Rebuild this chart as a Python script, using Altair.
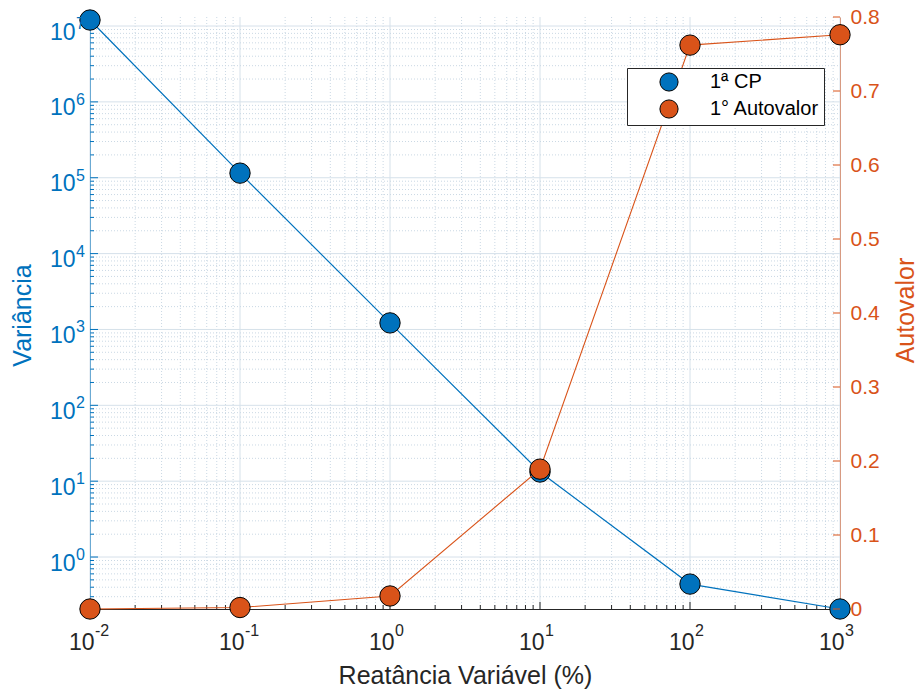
import altair as alt
import pandas as pd

# ---- data ----
reatancia = [0.01, 0.1, 1, 10, 100, 1000]
variancia = [1.2e7, 1.15e5, 1.22e3, 13.2, 0.44, 0.2065]
autovalor = [0.0, 0.002, 0.0176, 0.189, 0.762, 0.776]
series = ["1ª CP", "1° Autovalor"]

x_major = [0.01, 0.1, 1, 10, 100, 1000]
x_exp = ["-2", "-1", "0", "1", "2", "3"]
x_minor = [m * 10.0 ** k for k in range(-2, 3) for m in range(2, 10)]
yl_dom = [0.2065, 1.315e7]
y_major = [10.0 ** k for k in range(0, 8)]
y_exp = ["0", "1", "2", "3", "4", "5", "6", "7"]
y_minor = [m * 10.0 ** k for k in range(-1, 7) for m in range(2, 10)
           if yl_dom[0] <= m * 10.0 ** k <= yl_dom[1]]
r_ticks = [0, 0.1, 0.2, 0.3, 0.4, 0.5, 0.6, 0.7, 0.8]

BLUE = "#0072BD"
ORANGE = "#D95319"
DARK = "#262626"
GRID_MAJ = "#d6e1ea"
GRID_MIN = "#cad8e4"
FONT = "Liberation Sans"
W, H = 750, 592
BASE_FS = 23
EXP_FS = 16
TITLE_FS = 25

left_df = pd.DataFrame({"x": reatancia, "v": variancia, "s": series[0]})
right_df = pd.DataFrame({"x": reatancia, "v": autovalor, "s": series[1]})

xs = alt.Scale(type="log", domain=[0.01, 1000], nice=False)
yl = alt.Scale(type="log", domain=yl_dom, nice=False)
yr = alt.Scale(type="linear", domain=[0, 0.8], nice=False, zero=False)

color = alt.Color(
    "s:N",
    scale=alt.Scale(domain=series, range=[BLUE, ORANGE]),
    legend=alt.Legend(
        title=None, orient="none", legendX=537, legendY=51, direction="vertical",
        symbolType="circle", symbolSize=330, symbolStrokeColor="black",
        symbolStrokeWidth=1, symbolOpacity=1, labelFontSize=20, labelFont=FONT,
        labelColor="#000000", padding=4, strokeColor=DARK, fillColor="white",
        symbolOffset=28, labelOffset=31, rowPadding=3, cornerRadius=0,
    ),
)

x_axis = alt.Axis(
    values=x_major, labelExpr="'10'", grid=False, ticks=False, tickSize=0,
    domainColor=DARK, domainWidth=1, labelColor=DARK, labelFont=FONT,
    labelFontSize=BASE_FS, labelAlign="right", labelBaseline="top", labelOffset=4,
    labelPadding=22, labelFlush=False, labelOverlap=False,
    title="Reatância Variável (%)", titleFont=FONT, titleFontSize=TITLE_FS,
    titleFontWeight="normal", titleColor=DARK, titleX=W / 2, titleY=66,
    titleAlign="center", titleBaseline="middle",
)
yl_axis = alt.Axis(
    orient="left", values=y_major, labelExpr="'10'", grid=False, ticks=False, tickSize=0,
    domainColor=BLUE, domainWidth=1, labelColor=BLUE, labelFont=FONT,
    labelFontSize=BASE_FS, labelAlign="right", labelBaseline="middle", labelOffset=6,
    labelPadding=15, labelFlush=False, labelOverlap=False,
    title="Variância", titleFont=FONT, titleFontSize=TITLE_FS, titleFontWeight="normal",
    titleColor=BLUE, titleX=-68, titleY=H / 2 + 2, titleAngle=270,
    titleAlign="center", titleBaseline="middle",
)
yr_axis = alt.Axis(
    orient="right", values=r_ticks,
    labelExpr="datum.value == 0 ? '0' : format(datum.value, '.1f')",
    grid=False, ticks=False, tickSize=0,
    domainColor=ORANGE, domainWidth=1, labelColor=ORANGE, labelFont=FONT, labelFontSize=21,
    labelPadding=10, labelFlush=False, labelOverlap=False,
    title="Autovalor", titleFont=FONT, titleFontSize=TITLE_FS, titleFontWeight="normal",
    titleColor=ORANGE, titleX=65, titleY=H / 2 - 3, titleAngle=270,
    titleAlign="center", titleBaseline="middle",
)

def vrules(vals, dash, col):
    return alt.Chart(pd.DataFrame({"v": vals})).mark_rule(
        color=col, strokeWidth=1, strokeDash=dash
    ).encode(x=alt.X("v:Q", scale=xs, axis=x_axis), y=alt.value(0), y2=alt.value(H))

def hrules(vals, dash, col):
    return alt.Chart(pd.DataFrame({"v": vals})).mark_rule(
        color=col, strokeWidth=1, strokeDash=dash
    ).encode(y=alt.Y("v:Q", scale=yl, axis=yl_axis), x=alt.value(0), x2=alt.value(W))

gx_min = vrules(x_minor, [1, 2], GRID_MIN)
gx_maj = vrules(x_major, [1, 0], GRID_MAJ)
gy_min = hrules(y_minor, [1, 2], GRID_MIN)
gy_maj = hrules(y_major, [1, 0], GRID_MAJ)

def lticks(vals, ln):
    return alt.Chart(pd.DataFrame({"v": vals})).mark_rule(color=BLUE, strokeWidth=1).encode(
        y=alt.Y("v:Q", scale=yl, axis=yl_axis), x=alt.value(0), x2=alt.value(ln))

def bticks(vals, ln):
    return alt.Chart(pd.DataFrame({"v": vals})).mark_rule(color=DARK, strokeWidth=1).encode(
        x=alt.X("v:Q", scale=xs, axis=x_axis), y=alt.value(H), y2=alt.value(H - ln))

# exponents of the "10^k" tick labels
x_exp_txt = alt.Chart(pd.DataFrame({"v": x_major, "t": x_exp})).mark_text(
    font=FONT, fontSize=EXP_FS, color=DARK, align="left", baseline="top", dx=5
).encode(x=alt.X("v:Q", scale=xs, axis=x_axis), y=alt.value(H + 14), text="t:N")
y_exp_txt = alt.Chart(pd.DataFrame({"v": y_major, "t": y_exp})).mark_text(
    font=FONT, fontSize=EXP_FS, color=BLUE, align="left", baseline="middle", dy=-2
).encode(y=alt.Y("v:Q", scale=yl, axis=yl_axis), x=alt.value(-14), text="t:N")

blue_line = alt.Chart(left_df).mark_line(color=BLUE, strokeWidth=1.2, opacity=1).encode(
    x=alt.X("x:Q", scale=xs, axis=x_axis),
    y=alt.Y("v:Q", scale=yl, axis=yl_axis),
)
blue_pts = alt.Chart(left_df).mark_circle(
    size=415, opacity=1, stroke="black", strokeWidth=1
).encode(
    x=alt.X("x:Q", scale=xs, axis=x_axis),
    y=alt.Y("v:Q", scale=yl, axis=yl_axis),
    color=color,
)

left = alt.layer(
    gx_min, gx_maj, gy_min, gy_maj,
    lticks(y_major, 8), lticks(y_minor, 4),
    bticks(x_major, 7), bticks(x_minor, 4),
    blue_line, blue_pts,
    x_exp_txt, y_exp_txt,
)

rticks = alt.Chart(pd.DataFrame({"v": r_ticks})).mark_rule(color=ORANGE, strokeWidth=1).encode(
    y=alt.Y("v:Q", scale=yr, axis=yr_axis), x=alt.value(W - 7), x2=alt.value(W))
orange_line = alt.Chart(right_df).mark_line(color=ORANGE, strokeWidth=1.1, opacity=1).encode(
    x=alt.X("x:Q", scale=xs, axis=x_axis),
    y=alt.Y("v:Q", scale=yr, axis=yr_axis),
)
orange_pts = alt.Chart(right_df).mark_circle(
    size=415, opacity=1, stroke="black", strokeWidth=1
).encode(
    x=alt.X("x:Q", scale=xs, axis=x_axis),
    y=alt.Y("v:Q", scale=yr, axis=yr_axis),
    color=color,
)
right = alt.layer(rticks, orange_line, orange_pts)

chart = alt.layer(left, right).resolve_scale(y="independent").properties(
    width=W, height=H,
    autosize=alt.AutoSizeParams(type="none"),
    padding={"left": 90, "top": 17, "right": 78, "bottom": 82},
    background="white",
).configure_view(stroke=None)

chart.save("out.html", embed_options={"renderer": "svg", "actions": False})
